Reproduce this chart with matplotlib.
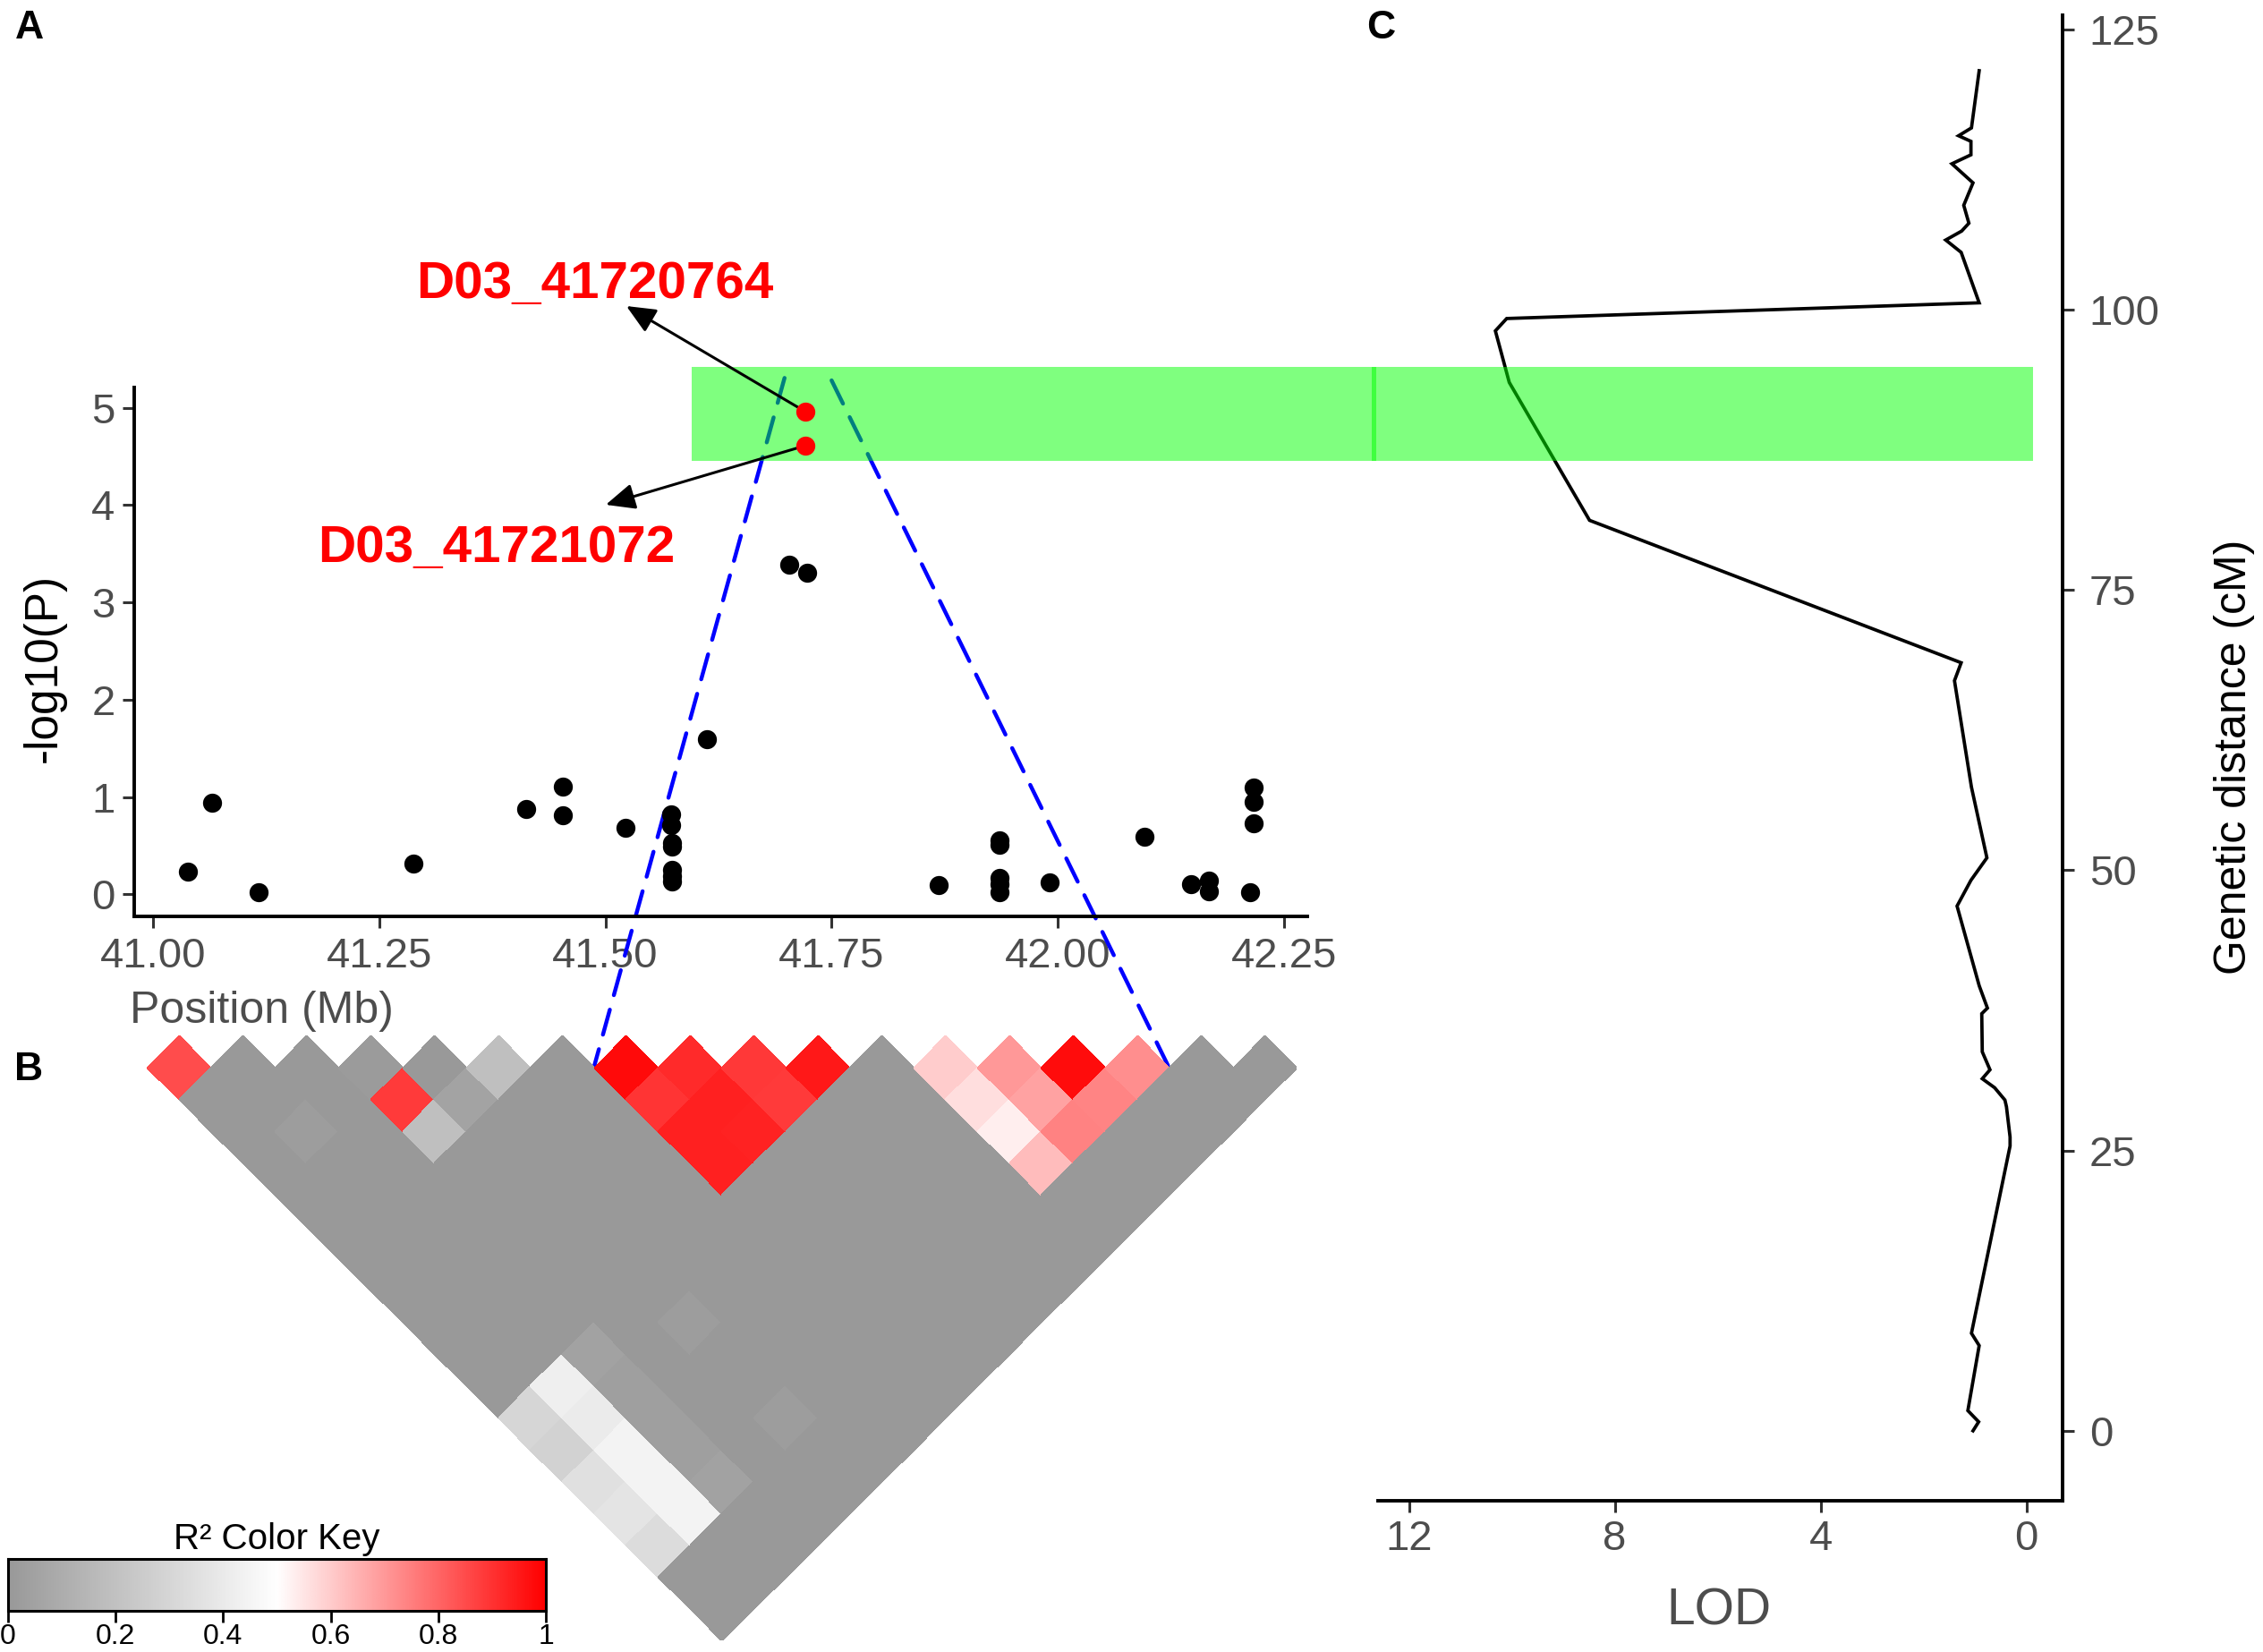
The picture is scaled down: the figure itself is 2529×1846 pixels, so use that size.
import numpy as np
import matplotlib
matplotlib.use("Agg")
import matplotlib.pyplot as plt
from matplotlib.colors import LinearSegmentedColormap
from matplotlib.patches import Rectangle, ConnectionPatch

plt.rcParams['font.family'] = ['Liberation Sans', 'DejaVu Sans']

# ---------------- Panel A data (GWAS) ----------------
pos_mb = [41.038, 41.065, 41.117, 41.288, 41.412, 41.453, 41.453, 41.522,
          41.573, 41.573, 41.574, 41.574, 41.574, 41.574, 41.574, 41.612,
          41.703, 41.723, 41.868, 41.936, 41.936, 41.936, 41.936, 41.936,
          41.991, 42.096, 42.147, 42.167, 42.167, 42.213, 42.217, 42.217,
          42.217]
logp = [0.23, 0.94, 0.02, 0.32, 0.88, 1.11, 0.81, 0.68,
        0.82, 0.71, 0.53, 0.49, 0.25, 0.19, 0.13, 1.595,
        3.39, 3.30, 0.095, 0.55, 0.51, 0.17, 0.10, 0.02,
        0.12, 0.59, 0.10, 0.145, 0.03, 0.025, 1.095, 0.95,
        0.725]
lead_pos_mb = [41.7208, 41.7211]
lead_logp = [4.96, 4.61]
lead_names = ['D03_41720764', 'D03_41721072']
x_ticks = [41.00, 41.25, 41.50, 41.75, 42.00, 42.25]
x_ticklabels = ['41.00', '41.25', '41.50', '41.75', '42.00', '42.25']
y_ticks = [0, 1, 2, 3, 4, 5]

# ---------------- Panel B data (LD R^2) ----------------
n_ld = 18
ld_row = [0, 1, 3, 3, 4, 5,
          7, 8, 9, 10, 7, 8, 9, 7, 8, 7,
          12, 13, 14, 15, 12, 13, 14, 12, 13, 12,
          0, 0, 0, 0, 0, 1, 1, 1, 1, 1,
          2, 2, 2, 2, 2, 4, 4, 3]
ld_col = [0, 3, 4, 5, 5, 5,
          7, 8, 9, 10, 8, 9, 10, 9, 10, 10,
          12, 13, 14, 15, 13, 14, 15, 14, 15, 15,
          11, 12, 13, 14, 15, 11, 12, 13, 14, 15,
          11, 12, 13, 14, 15, 12, 15, 3]
ld_r2 = [0.85, 0.02, 0.885, 0.19, 0.05, 0.19,
         0.98, 0.915, 0.89, 0.95, 0.895, 0.935, 0.885, 0.935, 0.93, 0.935,
         0.60, 0.70, 0.975, 0.72, 0.565, 0.68, 0.74, 0.535, 0.745, 0.63,
         0.30, 0.28, 0.35, 0.37, 0.33, 0.42, 0.40, 0.44, 0.44, 0.44,
         0.045, 0.035, 0.035, 0.035, 0.045, 0.02, 0.02, 0.015]
ld_block_first, ld_block_last = 7, 15   # cells linked to panel A

# ---------------- Panel C data (QTL LOD) ----------------
gen_cm = [0.0, 0.8, 1.8, 7.6, 8.7, 25.4, 26.2, 28.9, 29.5, 30.6, 31.4, 32.2,
          33.8, 37.2, 37.7, 39.7, 46.8, 49.1, 51.1, 57.4, 66.9, 68.5, 81.2,
          93.5, 98.1, 99.2, 100.6, 105.1, 106.2, 107.0, 107.7, 109.3, 111.3,
          113.0, 113.8, 115.0, 115.5, 116.2, 121.3]
lod = [1.04, 0.93, 1.14, 0.92, 1.07, 0.32, 0.32, 0.39, 0.42, 0.62, 0.86, 0.71,
       0.86, 0.87, 0.76, 0.92, 1.35, 1.08, 0.77, 1.07, 1.40, 1.27, 8.49,
       10.05, 10.32, 10.10, 0.92, 1.27, 1.57, 1.26, 1.12, 1.22, 1.04,
       1.45, 1.08, 1.08, 1.32, 1.07, 0.92]
qtl_cm = (86.52, 94.86)
highlight_start_mb = 41.595
lod_ticks = [12, 8, 4, 0]
cm_ticks = [0, 25, 50, 75, 100, 125]

# ---------------- Figure ----------------
W, H = 2529, 1846
DPI = 100
fig = plt.figure(figsize=(W / DPI, H / DPI), dpi=DPI)


def ax_px(l, t, r, b):
    return fig.add_axes([l / W, 1 - b / H, (r - l) / W, (b - t) / H])


def ftext(x, y, s, **kw):
    return fig.text(x / W, 1 - y / H, s, **kw)


tick_gray = '#4d4d4d'

# ---- Panel A ----
axA = ax_px(150, 433, 1461, 1024)
axA.set_facecolor('none')
all_x = pos_mb + lead_pos_mb
all_y = logp + lead_logp
xr = max(all_x) - min(all_x)
yr = max(all_y) - min(all_y)
axA.set_xlim(min(all_x) - 0.05 * xr, max(all_x) + 0.05 * xr)
axA.set_ylim(min(all_y) - 0.05 * yr, max(all_y) + 0.05 * yr)
axA.scatter(pos_mb, logp, s=235, color='black', linewidths=0, zorder=3, clip_on=False)
axA.scatter(lead_pos_mb, lead_logp, s=235, color='#ff0000', linewidths=0, zorder=5, clip_on=False)
for s in ['top', 'right']:
    axA.spines[s].set_visible(False)
for s in ['left', 'bottom']:
    axA.spines[s].set_linewidth(2.8)
    axA.spines[s].set_color('black')
axA.set_xticks(x_ticks)
axA.set_xticklabels(x_ticklabels)
axA.set_yticks(y_ticks)
axA.tick_params(axis='both', length=9.5, width=2.2, color='#333333',
                labelsize=34, labelcolor=tick_gray)
axA.tick_params(axis='x', pad=7)
axA.tick_params(axis='y', pad=6)

ftext(49, 746, '-log10(P)', rotation=90, ha='center', va='center', fontsize=37, color='black')
ftext(145, 1143, 'Position (Mb)', ha='left', va='baseline', fontsize=36, color=tick_gray)

# lead SNP labels and arrows
label_pos = [(465, 333), (355, 628)]
arrow_tips = [(700, 342), (677, 564)]
for name, (lx, ly), (tx, ty), px_, py_ in zip(lead_names, label_pos, arrow_tips, lead_pos_mb, lead_logp):
    ftext(lx, ly, name, ha='left', va='baseline', fontsize=42, fontweight='bold', color='#ff0000')
    axA.annotate('', xy=(tx, H - ty), xycoords='figure pixels',
                 xytext=(px_, py_), textcoords='data',
                 arrowprops=dict(arrowstyle='-|>,head_length=0.9,head_width=0.4',
                                 mutation_scale=22, lw=2.2, color='black',
                                 shrinkA=7, shrinkB=0),
                 zorder=4, annotation_clip=False)

# ---- Panel B (LD heatmap) ----
cmap = LinearSegmentedColormap.from_list('ld', ['#999999', '#ffffff', '#ff0000'])
axLD = ax_px(164, 1157, 1449, 1833)
axLD.set_facecolor('none')
ld = np.full((n_ld, n_ld), np.nan)
for r in range(n_ld):
    for c in range(r, n_ld):
        ld[r, c] = 0.0
for r, c, v in zip(ld_row, ld_col, ld_r2):
    ld[r, c] = v
gi, gj = np.meshgrid(np.arange(n_ld + 1), np.arange(n_ld + 1), indexing='ij')
X = (gi + gj) / 2.0
Y = -(gj - gi) / 2.0
axLD.pcolormesh(X, Y, np.ma.masked_invalid(ld), cmap=cmap, vmin=0, vmax=1,
                shading='flat', edgecolors='face', linewidth=0.4)
axLD.set_xlim(0, n_ld)
axLD.set_ylim(-n_ld / 2.0, 0.5)
axLD.axis('off')

# colour key
axK = ax_px(9, 1742, 610, 1800)
axK.imshow(np.linspace(0, 1, 512)[None, :], aspect='auto', cmap=cmap,
           extent=(0, 1, 0, 1), vmin=0, vmax=1)
axK.set_xlim(0, 1)
axK.set_ylim(0, 1)
axK.set_yticks([])
key_ticks = [0, 0.2, 0.4, 0.6, 0.8, 1]
axK.set_xticks(key_ticks)
axK.set_xticklabels(['0', '0.2', '0.4', '0.6', '0.8', '1'])
axK.tick_params(axis='x', length=9, width=2, color='black', labelsize=23,
                labelcolor='black', pad=1)
for s in axK.spines.values():
    s.set_linewidth(2.2)
    s.set_color('black')
ftext(309, 1731, 'R² Color Key', ha='center', va='baseline', fontsize=29, color='black')

# ---- Panel C ----
axC = ax_px(1540, 17, 2305, 1676.5)
axC.set_facecolor('none')
axC.plot(lod, gen_cm, color='black', lw=2.7, zorder=2, solid_joinstyle='miter')
axC.set_xlim(12.6, -0.7)
axC.set_ylim(-6.2, 126.25)
axC.yaxis.tick_right()
for s in ['top', 'left']:
    axC.spines[s].set_visible(False)
for s in ['right', 'bottom']:
    axC.spines[s].set_linewidth(2.8)
    axC.spines[s].set_color('black')
axC.set_xticks(lod_ticks)
axC.set_yticks(cm_ticks)
axC.tick_params(axis='both', length=9.5, width=2.2, color='#333333',
                labelsize=34, labelcolor=tick_gray)
axC.tick_params(axis='x', pad=6)
axC.tick_params(axis='y', pad=12)
ftext(1921, 1816, 'LOD', ha='center', va='baseline', fontsize=41, color=tick_gray)
ftext(2497, 846, 'Genetic distance (cM)', rotation=90, ha='center', va='center',
      fontsize=36, color='black')

# ---- green QTL band linking A and C ----
inv = fig.transFigure.inverted()
y0 = axC.transData.transform((0, qtl_cm[0]))[1]
y1 = axC.transData.transform((0, qtl_cm[1]))[1]
xa0 = axA.transData.transform((highlight_start_mb, 0))[0]
xsplit = axC.transAxes.transform((0, 0))[0]
xc1 = axC.transData.transform((-0.13, 0))[0]
(fa0, fy0) = inv.transform((xa0, y0))
(fa1, fy1) = inv.transform((xsplit - 2, y1))
rect1 = Rectangle((fa0, fy0), fa1 - fa0, fy1 - fy0, transform=fig.transFigure,
                  facecolor='#00ff00', alpha=0.5, edgecolor='none', zorder=2.5, clip_on=False)
axA.add_artist(rect1)
(fc0, _) = inv.transform((xsplit - 7, y0))
(fc1, _) = inv.transform((xc1, y0))
rect2 = Rectangle((fc0, fy0), fc1 - fc0, fy1 - fy0, transform=fig.transFigure,
                  facecolor='#00ff00', alpha=0.5, edgecolor='none', zorder=3, clip_on=False)
axC.add_artist(rect2)

# ---- dashed lines linking A and B ----
for (xa, ya), xb in [((41.698, 5.305), ld_block_first), ((41.750, 5.28), ld_block_last + 1)]:
    con = ConnectionPatch(xyA=(xa, ya), coordsA=axA.transData,
                          xyB=(xb, 0), coordsB=axLD.transData,
                          color='#0000ff', lw=3.2, linestyle=(0, (6.5, 3.8)),
                          zorder=2, clip_on=False)
    axA.add_artist(con)

# ---- panel letters ----
ftext(17, 43, 'A', ha='left', va='baseline', fontsize=32, fontweight='bold')
ftext(16, 1207, 'B', ha='left', va='baseline', fontsize=32, fontweight='bold')
ftext(1527, 43, 'C', ha='left', va='baseline', fontsize=32, fontweight='bold')

fig.savefig('out.png', dpi=DPI)
